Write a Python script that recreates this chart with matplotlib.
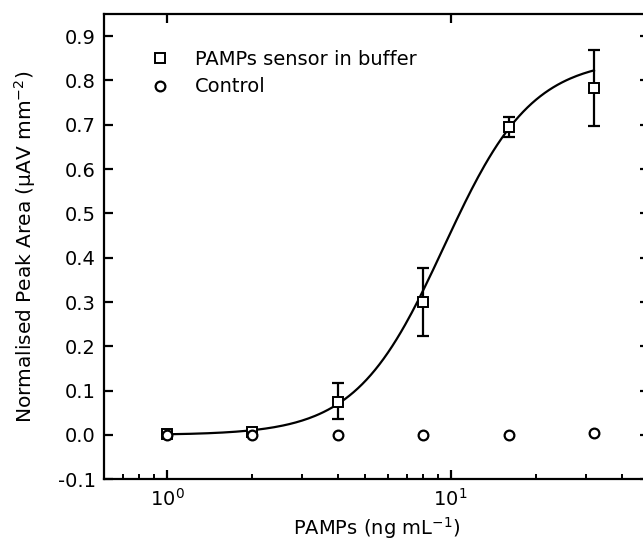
import matplotlib
matplotlib.use("Agg")
import matplotlib.pyplot as plt
import numpy as np
from matplotlib.ticker import FormatStrFormatter, MultipleLocator

plt.rcParams['font.family'] = ['DejaVu Sans']
plt.rcParams['axes.unicode_minus'] = False

# concentrations (ng/mL)
conc = [1, 2, 4, 8, 16, 32]
# PAMPs sensor in buffer
sensor = [0.002, 0.007, 0.075, 0.301, 0.694, 0.783]
err_low = [0.0, 0.0, 0.040, 0.077, 0.022, 0.085]
err_high = [0.0, 0.0, 0.042, 0.075, 0.023, 0.086]
# control
control = [0.0, 0.0, 0.0, 0.0, 0.0, 0.004]

# Hill fit parameters
hill_top = 0.85
hill_k = 9.47
hill_n = 2.8

fig = plt.figure(figsize=(6.43, 5.5), dpi=100)
ax = fig.add_axes([104 / 643, 70.7 / 550, 545 / 643, 465.3 / 550])

xfit = np.logspace(0, np.log10(32), 200)
yfit = hill_top * xfit ** hill_n / (hill_k ** hill_n + xfit ** hill_n)
ax.plot(xfit, yfit, color='black', lw=1.6, zorder=2)

ax.errorbar(conc, sensor, yerr=[err_low, err_high], fmt='none', ecolor='black',
            elinewidth=1.6, capsize=4, capthick=1.6, zorder=3)
ax.plot(conc, sensor, ls='none', marker='s', ms=6.5, mfc='white', mec='black',
        mew=1.4, label='PAMPs sensor in buffer', zorder=4)
ax.plot(conc, control, ls='none', marker='o', ms=7, mfc='white', mec='black',
        mew=1.6, label='Control', zorder=4)

ax.set_xscale('log')
ax.set_xlim(0.6, 50)
ax.set_ylim(-0.1, 0.95)
ax.yaxis.set_major_locator(MultipleLocator(0.1))
ax.yaxis.set_major_formatter(FormatStrFormatter('%.1f'))

for side in ['left', 'bottom', 'top']:
    ax.spines[side].set_linewidth(1.6)
ax.spines['right'].set_visible(False)

ax.tick_params(axis='both', which='major', direction='in', length=6.5, width=1.6,
               labelsize=14, pad=6)
ax.tick_params(axis='x', which='minor', direction='in', length=3.5, width=1.4)
ax.tick_params(axis='y', right=True)
ax.tick_params(axis='x', which='major', top=True)
ax.tick_params(axis='x', which='minor', top=False)

ax.set_xlabel('PAMPs (ng mL$^{-1}$)', fontsize=14, labelpad=4)
ax.set_ylabel('Normalised Peak Area (\u03bcAV mm$^{-2}$)', fontsize=14.5, labelpad=14)

ax.legend(loc='upper left', bbox_to_anchor=(0.053, 0.94), frameon=False,
          fontsize=14, numpoints=1, handlelength=2, handletextpad=0.8,
          borderaxespad=0, labelspacing=0.45)

fig.savefig('out.png', dpi=100)
